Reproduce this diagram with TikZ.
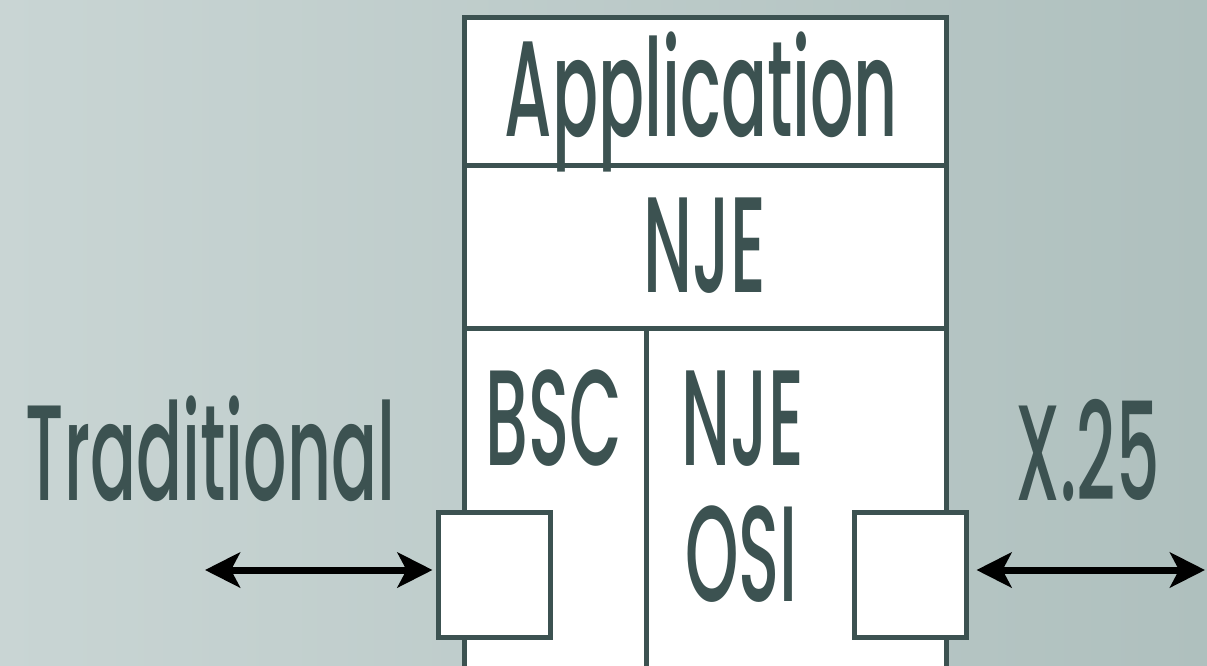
\documentclass[tikz,border=0pt]{standalone}
\usepackage{fontspec}
\setmainfont{Poppins}[FakeStretch=0.5,UprightFont={* Medium}]
\usetikzlibrary{arrows.meta}
\definecolor{slate}{RGB}{60,82,81}
\definecolor{bgleft}{RGB}{201,213,212}
\definecolor{bgright}{RGB}{175,192,190}
\tikzset{
  layer/.style={draw=slate,line width=5pt,fill=white},
  port/.style={draw=slate,line width=5pt,fill=white,minimum width=112pt,minimum height=125pt,inner sep=0pt},
  lbl/.style={text=slate,font=\fontsize{136}{136}\selectfont,anchor=base,inner sep=0pt},
}

\begin{document}
\begin{tikzpicture}[line join=miter,>={Stealth[length=35pt,width=35pt,inset=9pt]},x=1pt,y=-1pt]
            \useasboundingbox (0,0) rectangle (1207,665);
            \clip (0,0) rectangle (1207,665);
            \shade[left color=bgleft,right color=bgright] (0,0) rectangle (1207,665);
            % protocol stack
            \draw[layer] (464,17) rectangle (946,165);
            \draw[layer] (464,165) rectangle (946,328);
            \draw[layer] (464,328) rectangle (646,700);
            \draw[layer] (646,328) rectangle (946,700);
            \node[lbl] (app) at (701.5,136) {Application};
            \node[lbl] (nje) at (705,292) {NJE};
            \node[lbl] (bsc) at (553.5,465) {BSC};
            \node[lbl] (njeosi) at (743,465) {NJE};
            \node[lbl] (osi) at (741.5,601) {OSI};
            % ports and links
            \node[port] (tradport) at (494,575) {};
            \node[port] (x25port) at (910,575) {};
            \coordinate (tradend) at (205,570);
            \coordinate (x25end) at (1205,570);
            \draw[<->,line width=7pt,shorten >=3pt] (tradend) -- (tradend -| tradport.west);
            \draw[<->,line width=7pt,shorten <=8pt] (x25end -| x25port.east) -- (x25end);
            \node[lbl] (trad) at (210.5,500) {Traditional};
            \node[lbl] (x25) at (1087.5,500) {X.25};
\end{tikzpicture}
\end{document}
